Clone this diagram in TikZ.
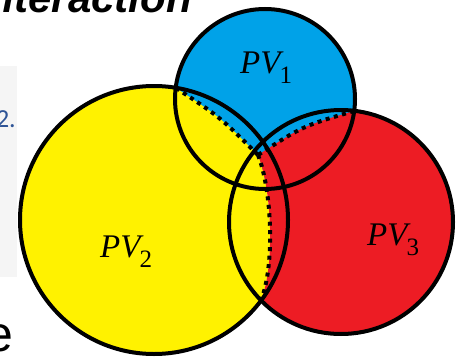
\documentclass[tikz,border=0pt]{standalone}
\usepackage{fontspec}
\newfontfamily\arialfont{Liberation Sans}
\newfontfamily\calfont{Carlito}
\newfontfamily\pvfont{Liberation Serif}
\newcommand{\pvlabel}[1]{{\pvfont\itshape\fontsize{33}{36}\selectfont PV}\kern-1pt\raisebox{-10pt}{\pvfont\fontsize{25}{28}\selectfont #1}}
\definecolor{pvblue}{HTML}{00A2E8}
\definecolor{pvyellow}{HTML}{FFF200}
\definecolor{pvred}{HTML}{ED1C24}
\definecolor{linkblue}{HTML}{2F5597}
\definecolor{panelgray}{HTML}{F5F5F5}
\begin{document}
\begin{tikzpicture}[x=1pt,y=-1pt,
  ring/.style={draw=black,line width=4pt},
  divider/.style={draw=black,line width=4pt,dash pattern=on 4pt off 4.5pt},
  lbl/.style={inner sep=0pt, anchor=base west}]
\useasboundingbox (0,0) rectangle (457,361);
\clip (0,0) rectangle (457,361);
% slide remnants
\fill[panelgray] (0,66) rectangle (17,277);
\node[anchor=base east, font=\arialfont\bfseries\itshape\fontsize{42}{48}\selectfont, inner sep=0pt] (title) at (192,13) {Interaction};
\node[anchor=base east, font=\calfont\fontsize{26}{30}\selectfont, text=linkblue, inner sep=0pt] (num) at (16,127) {2.};
\node[anchor=base east, font=\arialfont\fontsize{50}{56}\selectfont, inner sep=0pt] (etext) at (14,351) {e};
% geometry
\coordinate (cB) at (265,99);
\coordinate (cY) at (154,220);
\coordinate (cR) at (341,222);
\coordinate (IYB) at (176,88);
\coordinate (IBR) at (354,111);
\coordinate (IYR) at (261,300);
\coordinate (O) at (258,155);
% fills
\fill[pvblue] (cB) circle[radius=90pt];
\begin{scope}
\clip (176,-60) -- (IYB) .. controls (220,117) .. (O) .. controls (272,190) and (275,266) .. (IYR) -- (261,420) -- (-60,420) -- (-60,-60) -- cycle;
\fill[pvyellow] (cY) circle[radius=134pt];
\end{scope}
\begin{scope}
\clip (O) .. controls (303,126) .. (IBR) -- (520,60) -- (520,420) -- (261,420) -- (IYR) .. controls (275,266) and (272,190) .. (O) -- cycle;
\fill[pvred] (cR) circle[radius=112pt];
\end{scope}
% dotted dividers
\draw[divider] (IYB) .. controls (220,117) .. (O);
\draw[divider] (IBR) .. controls (303,126) .. (O);
\draw[divider] (O) .. controls (272,190) and (275,266) .. (IYR);
% circle outlines
\draw[ring] (cB) circle[radius=90pt];
\draw[ring] (cY) circle[radius=134pt];
\draw[ring] (cR) circle[radius=112pt];
% labels
\node[lbl] (pv1) at (240,73) {\pvlabel{1}};
\node[lbl] (pv2) at (100,257) {\pvlabel{2}};
\node[lbl] (pv3) at (367,245) {\pvlabel{3}};
\end{tikzpicture}
\end{document}
